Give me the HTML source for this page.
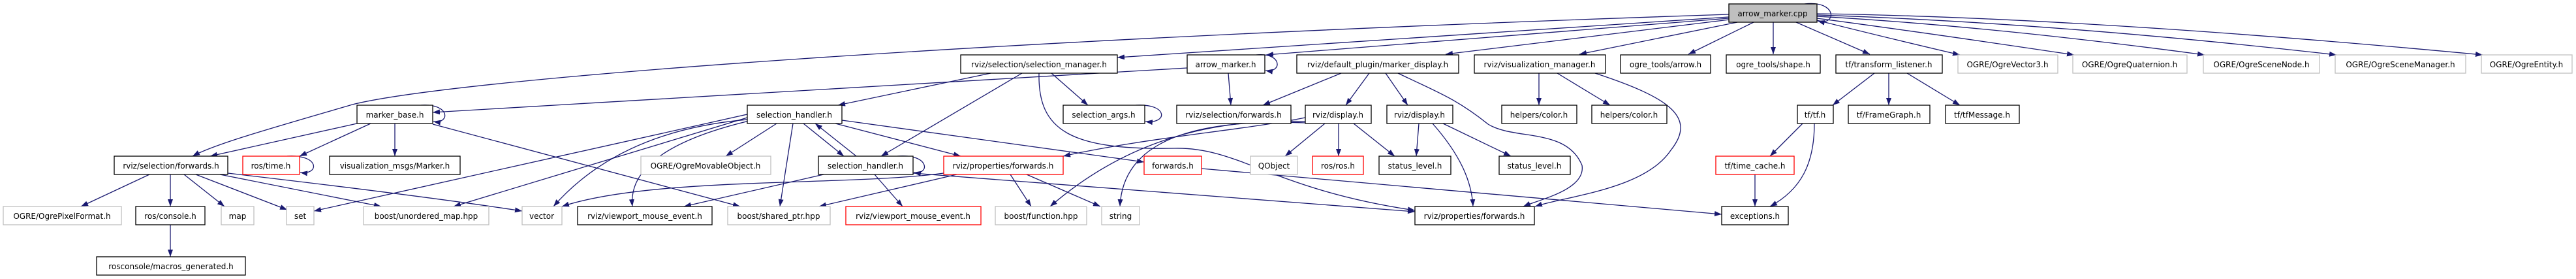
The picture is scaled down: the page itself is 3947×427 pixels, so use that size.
<!DOCTYPE html>
<html><head><meta charset="utf-8"><style>
html,body{margin:0;padding:0;background:#fff;}
svg{display:block;}
text{font-family:"DejaVu Sans","Liberation Sans",sans-serif;font-size:12px;text-anchor:middle;fill:#000;}
.e{fill:none;stroke:#191970;stroke-width:1.3;marker-end:url(#a);}
.b{fill:#fff;stroke:#000;stroke-width:1.3;}
.g{fill:#fff;stroke:#bfbfbf;stroke-width:1.3;}
.r{fill:#fff;stroke:#ff0000;stroke-width:1.3;}
</style></head><body>
<svg width="3947" height="427" viewBox="0 0 3947 427" xmlns="http://www.w3.org/2000/svg">
<defs><marker id="a" markerWidth="11" markerHeight="8" refX="11" refY="4" orient="auto" markerUnits="userSpaceOnUse"><path d="M0,0 L11,4 L0,8z" fill="#191970"/></marker></defs>
<path class="e" d="M2649,22 C1500,60 700,120 540,160 C420,195 330,220 295,239"/>
<path class="e" d="M2649,26 L1712,88"/>
<path class="e" d="M2649,28 L1940,84"/>
<path class="e" d="M2650,30 L2215,83"/>
<path class="e" d="M2662,34 L2420,83"/>
<path class="e" d="M2687,34 L2587,83"/>
<path class="e" d="M2717,34 L2717,83"/>
<path class="e" d="M2752,34 L2865,83"/>
<path class="e" d="M2784,31 Q2900,60 3003,84"/>
<path class="e" d="M2784,28 Q2950,50 3178,84"/>
<path class="e" d="M2784,25 Q3050,40 3378,84"/>
<path class="e" d="M2784,23 Q3150,35 3580,84"/>
<path class="e" d="M2784,21 Q3200,27 3804,84"/>
<path class="e" d="M2765,6 C2815,0 2815,40 2785,32"/>
<path class="e" d="M1925,84 C1965,80 1965,112 1939,108"/>
<path class="e" d="M1819,104 L663,172"/>
<path class="e" d="M1882,112 L1886,161"/>
<path class="e" d="M2055,112 L1935,161"/>
<path class="e" d="M2098,112 L2062,161"/>
<path class="e" d="M2123,112 L2157,161"/>
<path class="e" d="M2142,112 C2200,140 2230,150 2280,190 C2320,215 2400,195 2424,253 C2430,290 2360,305 2334,316"/>
<path class="e" d="M2358,112 L2358,161"/>
<path class="e" d="M2386,112 L2467,161"/>
<path class="e" d="M2444,112 C2560,150 2600,180 2560,230 C2520,290 2400,300 2352,316"/>
<path class="e" d="M2872,112 L2808,161"/>
<path class="e" d="M2894,112 L2894,161"/>
<path class="e" d="M2922,112 L3003,161"/>
<path class="e" d="M2762,189 L2712,239"/>
<path class="e" d="M2780,189 C2780,250 2760,290 2712,316"/>
<path class="e" d="M2689,267 L2689,316"/>
<path class="e" d="M2051,189 L2051,239"/>
<path class="e" d="M2074,189 L2137,239"/>
<path class="e" d="M2030,189 L1969,239"/>
<path class="e" d="M2000,180 C1900,200 1760,210 1629,239"/>
<path class="e" d="M2000,186 C1850,180 1720,220 1609,316"/>
<path class="e" d="M2000,188 C1800,180 1720,230 1716,316"/>
<path class="e" d="M2174,189 L2170,239"/>
<path class="e" d="M2211,189 L2315,239"/>
<path class="e" d="M2195,189 C2240,240 2255,280 2257,316"/>
<path class="e" d="M1518,112 L1284,161"/>
<path class="e" d="M1566,112 L1350,239"/>
<path class="e" d="M1611,112 L1667,161"/>
<path class="e" d="M1592,112 C1590,200 1640,230 1800,227 C1900,225 1950,290 2168,322"/>
<path class="e" d="M1740,161 C1790,158 1790,190 1755,186"/>
<path class="e" d="M1145,175 L481,323"/>
<path class="e" d="M1145,180 L695,316"/>
<path class="e" d="M1145,183 Q950,200 848,316"/>
<path class="e" d="M1148,185 Q960,230 969,316"/>
<path class="e" d="M1190,189 L1112,239"/>
<path class="e" d="M1215,189 L1195,316"/>
<path class="e" d="M1231,189 L1293,239"/>
<path class="e" d="M1280,189 L1472,239"/>
<path class="e" d="M1290,184 L1753,248"/>
<path class="e" d="M1312,239 L1249,189"/>
<path class="e" d="M1375,239 C1425,235 1425,268 1400,264"/>
<path class="e" d="M1262,267 L1048,316"/>
<path class="e" d="M1340,267 L1383,316"/>
<path class="e" d="M1399,265 L2168,324"/>
<path class="e" d="M1466,267 L1255,316"/>
<path class="e" d="M1548,267 L1580,316"/>
<path class="e" d="M1573,267 L1686,316"/>
<path class="e" d="M1446,265 C1300,285 1000,270 861,316"/>
<path class="e" d="M645,161 C690,158 690,190 664,186"/>
<path class="e" d="M547,189 L322,239"/>
<path class="e" d="M568,189 L459,239"/>
<path class="e" d="M605,189 L605,239"/>
<path class="e" d="M663,190 L1134,316"/>
<path class="e" d="M440,239 C490,236 490,268 460,264"/>
<path class="e" d="M229,267 L124,316"/>
<path class="e" d="M261,267 L261,316"/>
<path class="e" d="M282,267 L344,316"/>
<path class="e" d="M300,267 L440,321"/>
<path class="e" d="M337,267 L584,316"/>
<path class="e" d="M349,265 Q650,300 800,323"/>
<path class="e" d="M261,344 L261,393"/>
<path class="e" d="M1841,258 L2638,328"/>
<rect x="2649" y="6" width="135" height="28" fill="#bfbfbf" stroke="#000" stroke-width="1.3"/><text x="2716" y="25">arrow_marker.cpp</text>
<rect class="b" x="1472" y="84" width="240" height="28"/><text x="1592" y="103">rviz/selection/selection_manager.h</text>
<rect class="b" x="1819" y="84" width="119" height="28"/><text x="1878" y="103">arrow_marker.h</text>
<rect class="b" x="1987" y="84" width="248" height="28"/><text x="2111" y="103">rviz/default_plugin/marker_display.h</text>
<rect class="b" x="2259" y="84" width="201" height="28"/><text x="2359" y="103">rviz/visualization_manager.h</text>
<rect class="b" x="2483" y="84" width="138" height="28"/><text x="2552" y="103">ogre_tools/arrow.h</text>
<rect class="b" x="2645" y="84" width="144" height="28"/><text x="2717" y="103">ogre_tools/shape.h</text>
<rect class="b" x="2813" y="84" width="163" height="28"/><text x="2894" y="103">tf/transform_listener.h</text>
<rect class="g" x="3000" y="84" width="153" height="28"/><text x="3076" y="103">OGRE/OgreVector3.h</text>
<rect class="g" x="3176" y="84" width="175" height="28"/><text x="3263" y="103">OGRE/OgreQuaternion.h</text>
<rect class="g" x="3376" y="84" width="178" height="28"/><text x="3465" y="103">OGRE/OgreSceneNode.h</text>
<rect class="g" x="3578" y="84" width="200" height="28"/><text x="3678" y="103">OGRE/OgreSceneManager.h</text>
<rect class="g" x="3802" y="84" width="139" height="28"/><text x="3871" y="103">OGRE/OgreEntity.h</text>
<rect class="b" x="547" y="161" width="116" height="28"/><text x="605" y="180">marker_base.h</text>
<rect class="b" x="1145" y="161" width="145" height="28"/><text x="1217" y="180">selection_handler.h</text>
<rect class="b" x="1629" y="161" width="125" height="28"/><text x="1691" y="180">selection_args.h</text>
<rect class="b" x="1803" y="161" width="175" height="28"/><text x="1890" y="180">rviz/selection/forwards.h</text>
<rect class="b" x="2000" y="161" width="101" height="28"/><text x="2050" y="180">rviz/display.h</text>
<rect class="b" x="2125" y="161" width="101" height="28"/><text x="2175" y="180">rviz/display.h</text>
<rect class="b" x="2301" y="161" width="115" height="28"/><text x="2358" y="180">helpers/color.h</text>
<rect class="b" x="2439" y="161" width="115" height="28"/><text x="2496" y="180">helpers/color.h</text>
<rect class="b" x="2754" y="161" width="55" height="28"/><text x="2781" y="180">tf/tf.h</text>
<rect class="b" x="2832" y="161" width="125" height="28"/><text x="2894" y="180">tf/FrameGraph.h</text>
<rect class="b" x="2981" y="161" width="113" height="28"/><text x="3037" y="180">tf/tfMessage.h</text>
<rect class="b" x="175" y="239" width="174" height="28"/><text x="262" y="258">rviz/selection/forwards.h</text>
<rect class="r" x="372" y="239" width="87" height="28"/><text x="415" y="258">ros/time.h</text>
<rect class="b" x="505" y="239" width="200" height="28"/><text x="605" y="258">visualization_msgs/Marker.h</text>
<rect class="g" x="982" y="239" width="199" height="28"/><text x="1081" y="258">OGRE/OgreMovableObject.h</text>
<rect class="b" x="1254" y="239" width="145" height="28"/><text x="1326" y="258">selection_handler.h</text>
<rect class="r" x="1446" y="239" width="183" height="28"/><text x="1537" y="258">rviz/properties/forwards.h</text>
<rect class="r" x="1753" y="239" width="88" height="28"/><text x="1797" y="258">forwards.h</text>
<rect class="g" x="1916" y="239" width="72" height="28"/><text x="1952" y="258">QObject</text>
<rect class="r" x="2011" y="239" width="78" height="28"/><text x="2050" y="258">ros/ros.h</text>
<rect class="b" x="2113" y="239" width="110" height="28"/><text x="2168" y="258">status_level.h</text>
<rect class="b" x="2297" y="239" width="109" height="28"/><text x="2351" y="258">status_level.h</text>
<rect class="r" x="2629" y="239" width="120" height="28"/><text x="2689" y="258">tf/time_cache.h</text>
<rect class="g" x="5" y="316" width="181" height="28"/><text x="95" y="335">OGRE/OgrePixelFormat.h</text>
<rect class="b" x="208" y="316" width="106" height="28"/><text x="261" y="335">ros/console.h</text>
<rect class="g" x="339" y="316" width="50" height="28"/><text x="364" y="335">map</text>
<rect class="g" x="439" y="316" width="42" height="28"/><text x="460" y="335">set</text>
<rect class="g" x="557" y="316" width="192" height="28"/><text x="653" y="335">boost/unordered_map.hpp</text>
<rect class="g" x="800" y="316" width="61" height="28"/><text x="830" y="335">vector</text>
<rect class="b" x="885" y="316" width="206" height="28"/><text x="988" y="335">rviz/viewport_mouse_event.h</text>
<rect class="g" x="1115" y="316" width="157" height="28"/><text x="1193" y="335">boost/shared_ptr.hpp</text>
<rect class="r" x="1296" y="316" width="207" height="28"/><text x="1399" y="335">rviz/viewport_mouse_event.h</text>
<rect class="g" x="1525" y="316" width="140" height="28"/><text x="1595" y="335">boost/function.hpp</text>
<rect class="g" x="1688" y="316" width="58" height="28"/><text x="1717" y="335">string</text>
<rect class="b" x="2168" y="316" width="183" height="28"/><text x="2259" y="335">rviz/properties/forwards.h</text>
<rect class="b" x="2638" y="316" width="102" height="28"/><text x="2689" y="335">exceptions.h</text>
<rect class="b" x="148" y="393" width="228" height="28"/><text x="262" y="412">rosconsole/macros_generated.h</text>
</svg>
</body></html>
